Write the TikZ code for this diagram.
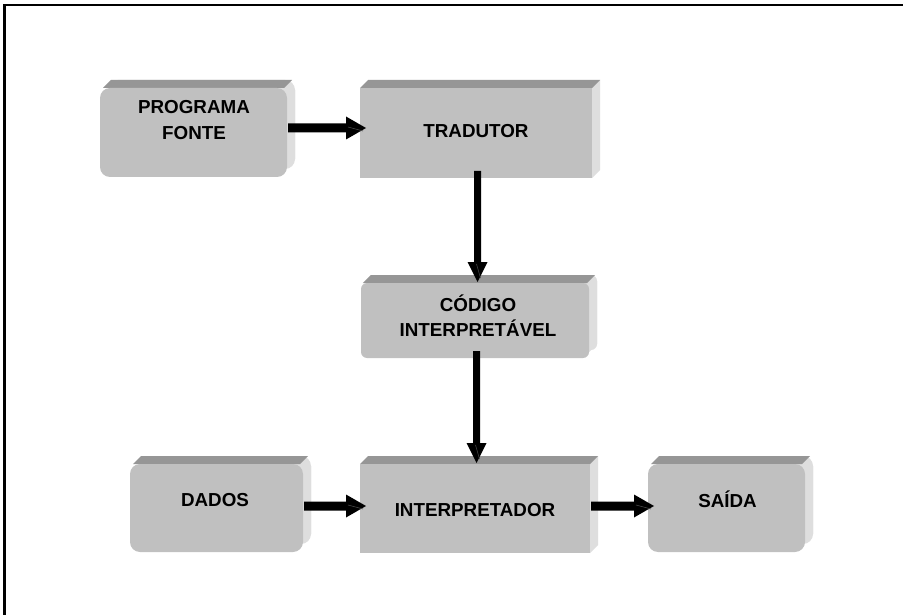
\documentclass[tikz,border=0pt]{standalone}
\usepackage{fontspec}
\setmainfont{Liberation Sans}
\usetikzlibrary{calc,backgrounds}
\definecolor{facec}{HTML}{C0C0C0}
\definecolor{topc}{HTML}{969696}
\definecolor{sidec}{HTML}{DEDEDE}
\tikzset{
  face/.style={fill=facec, draw=none, anchor=north west, inner sep=0pt, outer sep=0pt},
  lbl/.style={font=\fontsize{18.8}{25.5}\selectfont\bfseries, align=center, inner sep=0pt, text=black},
  lbl1/.style={lbl, text height=13.5pt, text depth=0pt},
  arr/.style={fill=black, draw=none},
  twist/.style={draw=gray!55!black, line width=0.6pt},
  frameline/.style={draw=black, line width=2.2pt},
}
% bevel: #1 node, #2 corner radius (px)
\newcommand{\bevel}[2]{%
  \fill[sidec, rounded corners=#2] ($(#1.south west)+(8,-8)$) rectangle ($(#1.north east)+(8,-8)$);
  \fill[sidec] ($(#1.north east)+(0,#2)$) -- ($(#1.north east)+(8,{-8+#2})$) -- ($(#1.south east)+(8,{-8-#2})$) -- ($(#1.south east)+(0,-#2)$) -- cycle;
  \fill[topc] ($(#1.north west)+({0.3*#2},0)$) -- ($(#1.north west)+({0.3*#2+8},-8)$) -- ($(#1.north east)+({8-0.3*#2},-8)$) -- ($(#1.north east)+({-0.3*#2},0)$) -- cycle;
}
% horizontal block arrow: from, to, y (px)
\newcommand{\harr}[3]{%
  \fill[arr] let \p1=(#1.east |- 0,#3), \p2=(#2.west |- 0,#3) in
    (\x1+1pt,\y1+4.5pt) -- (\x2-14pt,\y1+4.5pt) -- (\x2-14pt,\y1+11.5pt) -- (\x2+6pt,\y1)
    -- (\x2-14pt,\y1-11.5pt) -- (\x2-14pt,\y1-4.5pt) -- (\x1+1pt,\y1-4.5pt) -- cycle;
  \draw[twist] let \p1=(#1.east |- 0,#3), \p2=(#2.west |- 0,#3) in
    (\x2-12pt,\y1+1pt) -- (\x2+3pt,\y1-3pt);
}
% vertical block arrow: from, to, x (px)
\newcommand{\varr}[3]{%
  \fill[arr] let \p1=(#3,0 |- #1.south), \p2=(#3,0 |- #2.north) in
    (\x1-3.5pt,\y1+7pt) -- (\x1-3.5pt,\y2+21pt) -- (\x1-10pt,\y2+21pt) -- (\x1,\y2+1pt)
    -- (\x1+10pt,\y2+21pt) -- (\x1+3.5pt,\y2+21pt) -- (\x1+3.5pt,\y1+7pt) -- cycle;
  \draw[twist] let \p1=(#3,0 |- #1.south), \p2=(#3,0 |- #2.north) in
    (\x1-1pt,\y2+19pt) -- (\x1+3pt,\y2+5pt);
}
\begin{document}
\begin{tikzpicture}[x=1pt,y=-1pt]
\useasboundingbox (0,0) rectangle (903,615);
% front faces
\node[face, minimum width=187pt, minimum height=89pt, rounded corners=10pt] (pf) at (100,88) {};
\node[face, minimum width=232pt, minimum height=90pt] (tr) at (360,88) {};
\node[face, minimum width=228pt, minimum height=75pt, rounded corners=6pt] (cod) at (361,283) {};
\node[face, minimum width=173pt, minimum height=88pt, rounded corners=10pt] (da) at (130,464) {};
\node[face, minimum width=230pt, minimum height=89pt] (in) at (360,464) {};
\node[face, minimum width=157pt, minimum height=88pt, rounded corners=10pt] (sa) at (648,464) {};
% labels
\node[lbl] (pft) at (194,120.2) {PROGRAMA\\FONTE};
\node[lbl1] (trt) at (476,131) {TRADUTOR};
\node[lbl] (codt) at (478,315.6) {CÓDIGO\\INTERPRETÁVEL};
\node[lbl1] (dat) at (215,499.5) {DADOS};
\node[lbl1] (int) at (475,510) {INTERPRETADOR};
\node[lbl1] (sat) at (727.5,501) {SAÍDA};
% arrows
\harr{pf}{tr}{128}
\varr{tr}{cod}{477.5}
\varr{cod}{in}{476.5}
\harr{da}{in}{506}
\harr{in}{sa}{506}
% frame
\draw[frameline] (4.5,620) -- (4.5,5.3) -- (910,5.3);
% bevels behind
\begin{scope}[on background layer]
  \fill[white] (0,0) rectangle (903,615);
  \bevel{pf}{10}
  \bevel{tr}{0}
  \bevel{cod}{6}
  \bevel{da}{10}
  \bevel{in}{0}
  \bevel{sa}{10}
\end{scope}
\end{tikzpicture}
\end{document}
